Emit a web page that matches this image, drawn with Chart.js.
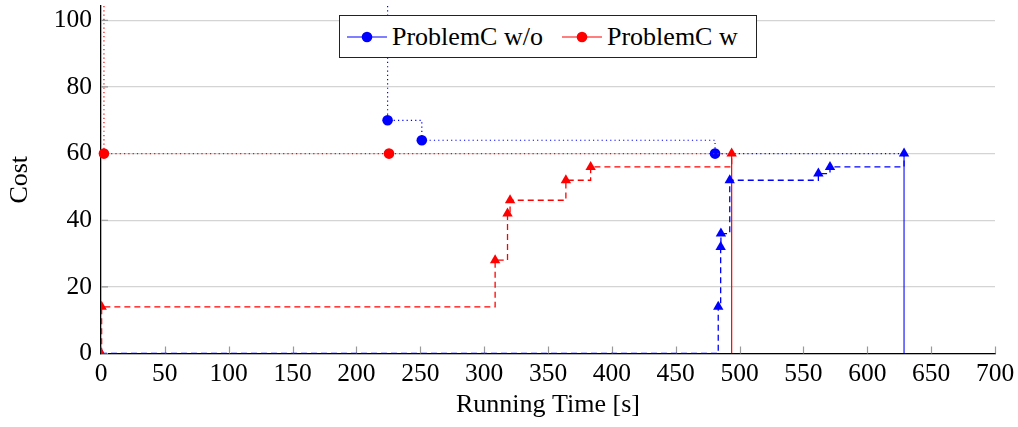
<!DOCTYPE html>
<html>
<head>
<meta charset="utf-8">
<script src="https://cdn.jsdelivr.net/npm/chart.js@4/dist/chart.umd.min.js"></script>
<style>
  html, body { margin: 0; padding: 0; background: #fff; }
  #wrap { position: relative; width: 1018px; height: 427px; }
  #legend {
    position: absolute; left: 339px; top: 15px; width: 418px; height: 43px;
    box-sizing: border-box; border: 1.3px solid #222; background: #fff;
    display: flex; align-items: center; padding-left: 7px;
    font-family: "Liberation Serif", serif; font-size: 26px; color: #000;
  }
  #legend .txt { display: inline-block; margin-left: 5px; white-space: nowrap; }
  #legend svg { display: block; }
</style>
</head>
<body>
<div id="wrap">
  <canvas id="chart" width="1018" height="427"></canvas>
  <div id="legend"></div>
</div>
<script>
/* ================= DATA ================= */

const seriesNames = ["ProblemC w/o", "ProblemC w"];

// best cost found so far (dotted, circles); first value is off the top of the plot
const woIncX = [224.4, 224.4, 251.2, 480.8, 628.8];
const woIncY = [1000, 70, 64, 60, 60];
const wIncX = [2.3, 2.3, 225.5, 493.8];
const wIncY = [1000, 60, 60, 60];

// bound (dashed, triangles)
const woBndX = [0, 483.3, 485.2, 485.4, 492.3, 561.7, 570.8, 628.8];
const woBndY = [0, 14, 32, 36, 52, 54, 56, 60];
const wBndX = [0, 0.5, 308.6, 318.3, 320.3, 364, 383.4, 493.8];
const wBndY = [0, 14, 28, 42, 46, 52, 56, 60];

// end of run (solid drop lines)
const woEndX = 628.8;
const wEndX = 493.8;

const xTicks = [0, 50, 100, 150, 200, 250, 300, 350, 400, 450, 500, 550, 600, 650, 700];
const yTicks = [0, 20, 40, 60, 80, 100];

const BLUE = "#0000ff";
const RED = "#ff0000";

/* ================= HELPERS ================= */

function pts(xs, ys) {
  return xs.map((x, i) => ({ x: x, y: ys[i] }));
}

// no marker on the off-plot start point nor on the final (end of run) point
function incRadius(ctx) {
  const n = ctx.dataset.data.length;
  if (ctx.dataIndex === 0 || ctx.dataIndex === n - 1) return 0;
  return 5.3;
}

Chart.defaults.font.family = "'Liberation Serif', serif";
Chart.defaults.font.size = 25.5;
Chart.defaults.color = "#000";

/* ================= INWARD TICK MARKS ================= */

const innerTicks = {
  id: "innerTicks",
  beforeDatasetsDraw(chart) {
    const { ctx, chartArea, scales } = chart;
    ctx.save();
    ctx.strokeStyle = "#999";
    ctx.lineWidth = 1.2;
    ctx.beginPath();
    xTicks.forEach(v => {
      const px = Math.round(scales.x.getPixelForValue(v)) + 0.5;
      ctx.moveTo(px, chartArea.bottom);
      ctx.lineTo(px, chartArea.bottom - 7);
    });
    yTicks.forEach(v => {
      const py = scales.y.getPixelForValue(v);
      ctx.moveTo(chartArea.left, py);
      ctx.lineTo(chartArea.left + 7, py);
    });
    ctx.stroke();
    ctx.restore();
  }
};

/* ================= CHART ================= */

const dotted = [1.2, 3.1];
const dashed = [6, 4];
const incClip = { left: 8, right: 8, top: 0, bottom: 8 };

const chart = new Chart(document.getElementById("chart"), {
  type: "line",
  data: {
    datasets: [
      {
        label: seriesNames[1] + " bound",
        data: pts(wBndX, wBndY),
        borderColor: RED,
        backgroundColor: RED,
        borderWidth: 1.3,
        borderDash: dashed,
        stepped: "before",
        pointStyle: "triangle",
        pointRadius: 6,
        pointBorderWidth: 0
      },
      {
        label: seriesNames[0] + " bound",
        data: pts(woBndX, woBndY),
        borderColor: BLUE,
        backgroundColor: BLUE,
        borderWidth: 1.3,
        borderDash: dashed,
        stepped: "before",
        pointStyle: "triangle",
        pointRadius: 6,
        pointBorderWidth: 0
      },
      {
        label: seriesNames[1],
        data: pts(wIncX, wIncY),
        borderColor: RED,
        backgroundColor: RED,
        borderWidth: 1.2,
        borderDash: dotted,
        stepped: "before",
        pointRadius: incRadius,
        pointBorderWidth: 0,
        clip: incClip
      },
      {
        label: seriesNames[0],
        data: pts(woIncX, woIncY),
        borderColor: BLUE,
        backgroundColor: BLUE,
        borderWidth: 1.2,
        borderDash: dotted,
        stepped: "before",
        pointRadius: incRadius,
        pointBorderWidth: 0,
        clip: incClip
      },
      {
        label: seriesNames[1] + " end",
        data: [{ x: wEndX, y: 0 }, { x: wEndX, y: wIncY[wIncY.length - 1] }],
        borderColor: RED,
        borderWidth: 1.2,
        pointRadius: 0
      },
      {
        label: seriesNames[0] + " end",
        data: [{ x: woEndX, y: 0 }, { x: woEndX, y: woIncY[woIncY.length - 1] }],
        borderColor: "rgba(0,0,255,0.6)",
        borderWidth: 1.8,
        pointRadius: 0
      }
    ]
  },
  options: {
    responsive: false,
    animation: false,
    layout: { padding: { top: 4, right: 23, left: 0, bottom: 0 } },
    plugins: {
      legend: { display: false },
      tooltip: { enabled: false }
    },
    scales: {
      x: {
        type: "linear",
        min: 0,
        max: 700,
        afterBuildTicks: s => { s.ticks = xTicks.map(v => ({ value: v })); },
        afterFit: s => {
          s.height = 73.5;
          s.paddingLeft = 0; s.paddingRight = 0;
        },
        ticks: { padding: 5, maxRotation: 0, autoSkip: false },
        grid: { display: false, drawTicks: false },
        border: { display: true, color: "#000", width: 1.3 },
        title: {
          display: true,
          text: "Running Time [s]",
          font: { size: 26, lineHeight: 1.2 },
          padding: { top: 0, bottom: 6.6 }
        }
      },
      y: {
        type: "linear",
        min: 0,
        max: 104.3,
        afterBuildTicks: s => { s.ticks = yTicks.map(v => ({ value: v })); },
        afterFit: s => {
          s.width = 101;
          s.paddingTop = 0; s.paddingBottom = 0;
        },
        ticks: { padding: 9 },
        grid: { color: "#d4d4d4", lineWidth: 1.3, drawTicks: false },
        border: { display: true, color: "#000", width: 1.3 },
        title: {
          display: true,
          text: "Cost",
          font: { size: 26, lineHeight: 1.2 },
          padding: { top: 5, bottom: 5 }
        }
      }
    }
  },
  plugins: [innerTicks]
});

/* ================= LEGEND ================= */

const legendColors = [BLUE, RED];
const legendWidths = [165, 136];
const legendEl = document.getElementById("legend");
seriesNames.forEach((name, i) => {
  const svg = document.createElementNS("http://www.w3.org/2000/svg", "svg");
  svg.setAttribute("width", "40");
  svg.setAttribute("height", "12");
  if (i > 0) svg.style.marginLeft = "5px";
  svg.innerHTML =
    '<line x1="0" y1="6" x2="40" y2="6" stroke="' + legendColors[i] + '" stroke-width="1.2"/>' +
    '<circle cx="20" cy="6" r="5.3" fill="' + legendColors[i] + '"/>';
  const txt = document.createElement("span");
  txt.className = "txt";
  txt.style.width = legendWidths[i] + "px";
  txt.textContent = name;
  legendEl.appendChild(svg);
  legendEl.appendChild(txt);
});
</script>
</body>
</html>
